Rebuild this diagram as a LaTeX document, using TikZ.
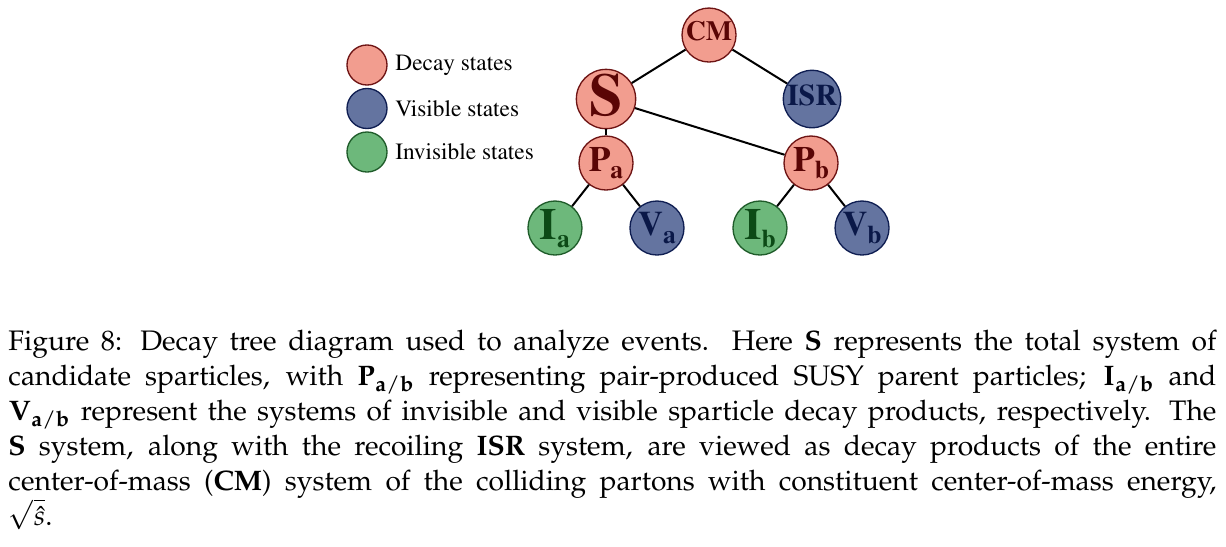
\documentclass[tikz,border=0pt]{standalone}
\usepackage[T1]{fontenc}
\usepackage{mathpazo}
\usepackage{tikz}

\definecolor{decayfill}{HTML}{F29D8F}
\definecolor{decayline}{HTML}{6E1414}
\definecolor{decaytext}{HTML}{5A0505}
\definecolor{visfill}{HTML}{6474A0}
\definecolor{visline}{HTML}{0F1E52}
\definecolor{vistext}{HTML}{0A1848}
\definecolor{invfill}{HTML}{6DB87B}
\definecolor{invline}{HTML}{1F5C2A}
\definecolor{invtext}{HTML}{0C4A16}

\def\timesfont{\fontfamily{ptm}\selectfont}
\def\statelabel[#1](#2)(#3){{\fontsize{#1}{#1}\fontfamily{ptm}\bfseries\selectfont #2}\raisebox{-3.5pt}{\fontsize{11.5}{11.5}\fontfamily{ptm}\bfseries\selectfont #3}}

\tikzset{
	state/.style={circle, draw, line width=0.6pt, minimum size=0.854cm, inner sep=0pt},
	decaynode/.style={state, fill=decayfill, draw=decayline, text=decaytext},
	visnode/.style={state, fill=visfill, draw=visline, text=vistext},
	invnode/.style={state, fill=invfill, draw=invline, text=invtext},
	legendnode/.style={circle, draw, line width=0.6pt, minimum size=0.633cm, inner sep=0pt},
	edge/.style={line width=0.9pt, black}
}

\begin{document}
\begin{tikzpicture}
		%%%%% START %%%%%
		\useasboundingbox (0, 0) rectangle (19.389, -8.635);
		
		% legend
		\node[legendnode, fill=decayfill, draw=decayline] (legdecay) at (5.804, -1.028) {};
		\node[legendnode, fill=visfill, draw=visline] (legvis) at (5.804, -1.716) {};
		\node[legendnode, fill=invfill, draw=invline] (leginv) at (5.804, -2.404) {};
		\node[anchor=west, inner sep=0pt, font=\fontsize{10.5}{12}\timesfont] (txtdecay) at (6.247, -1.028) {Decay states};
		\node[anchor=west, inner sep=0pt, font=\fontsize{10.5}{12}\timesfont] (txtvis) at (6.247, -1.716) {Visible states};
		\node[anchor=west, inner sep=0pt, font=\fontsize{10.5}{12}\timesfont] (txtinv) at (6.247, -2.404) {Invisible states};
		
		% tree
		\node[decaynode] (CM) at (11.213, -0.554) {\statelabel[12.5](CM)()};
		\node[decaynode] (S) at (9.584, -1.566) {\statelabel[27](S)()};
		\node[visnode] (ISR) at (12.842, -1.566) {\statelabel[13.5](ISR)()};
		\node[decaynode] (Pa) at (9.584, -2.578) {\statelabel[16](P)(a)};
		\node[decaynode] (Pb) at (12.826, -2.578) {\statelabel[16](P)(b)};
		\node[invnode] (Ia) at (8.777, -3.606) {\statelabel[20](I)(a)};
		\node[visnode] (Va) at (10.390, -3.606) {\statelabel[15.5](V)(a)};
		\node[invnode] (Ib) at (12.019, -3.606) {\statelabel[20](I)(b)};
		\node[visnode] (Vb) at (13.633, -3.606) {\statelabel[15.5](V)(b)};
		
		\draw[edge] (CM) -- (S);
		\draw[edge] (CM) -- (ISR);
		\draw[edge] (S) -- (Pa);
		\draw[edge] (S) -- (Pb);
		\draw[edge] (Pa) -- (Ia);
		\draw[edge] (Pa) -- (Va);
		\draw[edge] (Pb) -- (Ib);
		\draw[edge] (Pb) -- (Vb);
		
		% caption
		\node[anchor=base west, inner sep=0pt, text width=19.104cm, align=justify, font=\fontsize{12.7}{15.75}\selectfont] (caption) at (0.127, -5.546) {Figure 8: Decay tree diagram used to analyze events.  Here \textbf{S} represents the total system of\linebreak candidate sparticles, with $\mathbf{P}_{\mathbf{a/b}}$ representing pair-produced SUSY parent particles; $\mathbf{I}_{\mathbf{a/b}}$ and\linebreak $\mathbf{V}_{\mathbf{a/b}}$ represent the systems of invisible and visible sparticle decay products, respectively. The\linebreak \textbf{S} system, along with the recoiling \textbf{ISR} system, are viewed as decay products of the entire\linebreak center-of-mass (\textbf{CM}) system of the colliding partons with constituent center-of-mass energy,\linebreak $\sqrt{\hat{s}}$.};
		
		%%%%% END %%%%%
	\end{tikzpicture}
\end{document}
